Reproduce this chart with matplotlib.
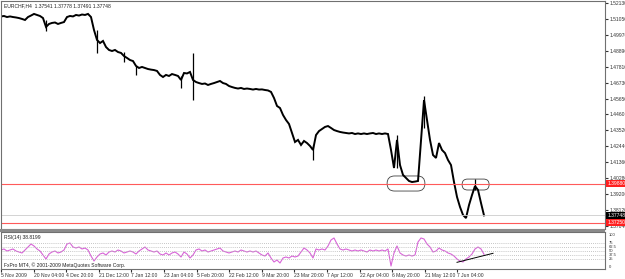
import matplotlib
matplotlib.use("Agg")
import matplotlib.pyplot as plt
from matplotlib.patches import FancyBboxPatch, Rectangle
from matplotlib import transforms

# EURCHF H4 closes, one sample every few bars
close = [1.5122, 1.5125, 1.5118, 1.5122, 1.5118, 1.5115, 1.5111, 1.5105, 1.5098, 1.5118,
         1.5128, 1.5139, 1.5132, 1.5125, 1.5111, 1.5051, 1.5071, 1.5078, 1.5081, 1.5071,
         1.5078, 1.5084, 1.5118, 1.5125, 1.5122, 1.5132, 1.5128, 1.5135, 1.5132, 1.5139,
         1.5118, 1.5030, 1.4963, 1.4942, 1.4956, 1.4915, 1.4895, 1.4888, 1.4895, 1.4881,
         1.4875, 1.4854, 1.4841, 1.4827, 1.4820, 1.4787, 1.4773, 1.4780, 1.4773, 1.4766,
         1.4762, 1.4759, 1.4753, 1.4726, 1.4712, 1.4726, 1.4719, 1.4732, 1.4726, 1.4719,
         1.4692, 1.4739, 1.4736, 1.4746, 1.4692, 1.4678, 1.4671, 1.4665, 1.4668, 1.4658,
         1.4665, 1.4671, 1.4678, 1.4685, 1.4671, 1.4665, 1.4651, 1.4644, 1.4638, 1.4634,
         1.4638, 1.4631, 1.4634, 1.4631, 1.4627, 1.4631, 1.4627, 1.4628, 1.4624, 1.4621,
         1.4611, 1.4570, 1.4516, 1.4502, 1.4455, 1.4421, 1.4394, 1.4333, 1.4272, 1.4286,
         1.4252, 1.4279, 1.4265, 1.4245, 1.4218, 1.4319, 1.4346, 1.4360, 1.4374, 1.4380,
         1.4367, 1.4353, 1.4346, 1.4340, 1.4336, 1.4333, 1.4330, 1.4333, 1.4326, 1.4330,
         1.4326, 1.4330, 1.4326, 1.4330, 1.4333, 1.4326, 1.4330, 1.4326, 1.4330, 1.4326,
         1.4218, 1.4096, 1.4286, 1.4116, 1.4049, 1.4028, 1.4008, 1.4001, 1.4004, 1.4008,
         1.4286, 1.4556, 1.4421, 1.4286, 1.4184, 1.4164, 1.4265, 1.4218, 1.4197, 1.4150,
         1.4116, 1.4001, 1.3900, 1.3832, 1.3778, 1.3757, 1.3845, 1.3913, 1.3974, 1.3947,
         1.3859, 1.3775]

# long wicks
spike_bar = [15, 32, 41, 45, 60, 64, 104, 132, 141, 158]
spike_hi = [1.5098, 1.5030, 1.4881, 1.4787, 1.4719, 1.4875, 1.4252, 1.4319, 1.4583, 1.4022]
spike_lo = [1.5023, 1.4875, 1.4813, 1.4726, 1.4638, 1.4556, 1.4150, 1.4096, 1.4367, 1.3947]

rsi = [52.4, 55.6, 49.2, 52.4, 55.6, 49.2, 46.0, 42.9, 52.4, 61.9,
       71.4, 65.1, 55.6, 49.2, 36.5, 23.8, 39.7, 46.0, 49.2, 42.9,
       46.0, 52.4, 71.4, 74.6, 61.9, 58.7, 61.9, 55.6, 58.7, 52.4,
       33.3, 17.5, 30.2, 39.7, 42.9, 36.5, 46.0, 49.2, 46.0, 52.4,
       49.2, 42.9, 46.0, 49.2, 46.0, 39.7, 49.2, 55.6, 61.9, 52.4,
       49.2, 46.0, 49.2, 39.7, 36.5, 42.9, 36.5, 42.9, 46.0, 39.7,
       30.2, 46.0, 39.7, 27.0, 36.5, 52.4, 55.6, 49.2, 52.4, 46.0,
       49.2, 52.4, 55.6, 58.7, 49.2, 46.0, 42.9, 46.0, 49.2, 46.0,
       52.4, 49.2, 46.0, 49.2, 46.0, 49.2, 42.9, 36.5, 33.3, 42.9,
       27.0, 14.3, 20.6, 11.1, 27.0, 30.2, 27.0, 33.3, 30.2, 33.3,
       46.0, 58.7, 52.4, 42.9, 27.0, 55.6, 52.4, 55.6, 52.4, 65.1,
       84.1, 90.5, 71.4, 55.6, 52.4, 55.6, 52.4, 49.2, 52.4, 49.2,
       52.4, 49.2, 46.0, 52.4, 49.2, 52.4, 49.2, 52.4, 49.2, 55.6,
       1.6, 42.9, 65.1, 42.9, 36.5, 33.3, 36.5, 33.3, 36.5, 77.8,
       90.5, 87.3, 71.4, 61.9, 46.0, 49.2, 58.7, 52.4, 49.2, 42.9,
       39.7, 33.3, 23.8, 17.5, 14.3, 23.8, 30.2, 39.7, 55.6, 61.9,
       55.6, 38.8]
rsi_levels = [25, 37.5, 50, 62.5, 75]
rsi_trend_bar = [152, 164]
rsi_trend_val = [13.3, 41.9]

date_bar = [0, 10.87, 21.73, 32.6, 43.47, 54.33, 65.2, 76.07, 86.93, 97.8,
            108.67, 119.53, 130.4, 141.27, 152.13]
date_labels = ['5 Nov 2009', '20 Nov 04:00', '4 Dec 20:00', '21 Dec 12:00', '7 Jan 12:00',
               '23 Jan 04:00', '5 Feb 20:00', '22 Feb 12:00', '9 Mar 20:00', '23 Mar 20:00',
               '7 Apr 12:00', '22 Apr 04:00', '6 May 20:00', '21 May 12:00', '7 Jun 04:00']
price_ticks = [1.52130, 1.51050, 1.49970, 1.48890, 1.47810, 1.46730, 1.45650, 1.44600,
               1.43520, 1.42440, 1.41360, 1.40280, 1.39200, 1.38120, 1.37040]

support_levels = [1.39880, 1.37250]
bid = 1.37748
# marked zones: bar from, bar to, low, high
zone_from = [128.7, 153.7]
zone_to = [141.3, 162.7]
zone_lo = [1.3940, 1.3947]
zone_hi = [1.4042, 1.4021]

header = "EURCHF,H4  1.37541 1.37778 1.37491 1.37748"
rsi_title = "RSI(14) 38.8199"
footer = "FxPro MT4, \u00a9 2001-2009 MetaQuotes Software Corp."

plt.rcParams['font.family'] = ['Liberation Sans', 'DejaVu Sans']

W, H = 625, 279
fs = 3.6
fig = plt.figure(figsize=(W / 100, H / 100), dpi=100)
fig.patch.set_facecolor('white')

ax = fig.add_axes([1 / W, 1 - 229 / H, 604 / W, 228 / H])
ax2 = fig.add_axes([1 / W, 1 - 269 / H, 604 / W, 37 / H], sharex=ax)

bars = list(range(len(close)))
ax.plot(bars, close, color='black', lw=1.4, solid_joinstyle='miter')
ax.vlines(spike_bar, spike_lo, spike_hi, color='black', lw=0.9)
ax.set_xlim(0, 201.33)
ax.set_ylim(1.36830, 1.52265)

for lv in support_levels:
    ax.axhline(lv, color='#ff5a5a', lw=0.8)
ax.axhline(bid, color='#cccccc', lw=0.6)

# rounded zone markers, corrected for the axes aspect
xspan = 201.33 / 604
yspan = (1.52265 - 1.36830) / 228
asp = yspan / xspan
for x0, x1, lo, hi in zip(zone_from, zone_to, zone_lo, zone_hi):
    r = (hi - lo) / asp / 2
    ax.add_patch(FancyBboxPatch((x0, lo), x1 - x0, hi - lo,
                                boxstyle=f"round,pad=0,rounding_size={r}",
                                mutation_aspect=asp, fc='none', ec='#404040', lw=0.6))

ax.yaxis.tick_right()
ax.set_yticks(price_ticks)
ax.set_yticklabels([f"{p:.5f}" for p in price_ticks])
ax.tick_params(axis='y', length=2, pad=1, labelsize=fs, colors='#333333')
ax.tick_params(axis='x', bottom=False, labelbottom=False)
for s in ax.spines.values():
    s.set_color('#707070')
    s.set_linewidth(0.8)

tr = transforms.blended_transform_factory(ax.transAxes, ax.transData)
for lv, c in [(support_levels[0], '#ff2020'), (bid, 'black'), (support_levels[1], '#ff2020')]:
    ax.text(1.004, lv, f"{lv:.5f}", transform=tr, fontsize=fs, color='white',
            va='center', ha='left',
            bbox=dict(boxstyle='square,pad=0.2', fc=c, ec='none'))

# RSI window
ax2.plot(bars, rsi, color='#d864d8', lw=0.8)
for lv in rsi_levels:
    ax2.axhline(lv, color='#b4b4b4', lw=0.6, ls=(0, (1, 1.5)))
ax2.plot(rsi_trend_bar, rsi_trend_val, color='black', lw=0.7)
ax2.set_ylim(-7.9, 109.5)
ax2.yaxis.tick_right()
ax2.set_yticks([0] + rsi_levels + [100])
ax2.set_yticklabels(['0'] + [f"{v:g}" for v in rsi_levels] + ['100'])
ax2.tick_params(axis='y', length=0, pad=3, labelsize=3.0, colors='#333333')
ax2.set_xticks(date_bar)
ax2.set_xticklabels(date_labels, ha='left')
ax2.tick_params(axis='x', length=2, pad=1, labelsize=fs, colors='#333333')
for s in ax2.spines.values():
    s.set_color('#707070')
    s.set_linewidth(0.8)

fig.patches.append(Rectangle((0, 1 - 232 / H), 605 / W, 3 / H, transform=fig.transFigure,
                             fc='#8a8a8a', ec='none'))

fig.text(4 / W, 1 - 6 / H, header, fontsize=fs, va='center', ha='left', color='#222222')
fig.text(4 / W, 1 - 238 / H, rsi_title, fontsize=fs, va='center', ha='left', color='#222222')
fig.text(4 / W, 1 - 265 / H, footer, fontsize=fs, va='center', ha='left', color='#222222')

fig.savefig('out.png', dpi=100)
